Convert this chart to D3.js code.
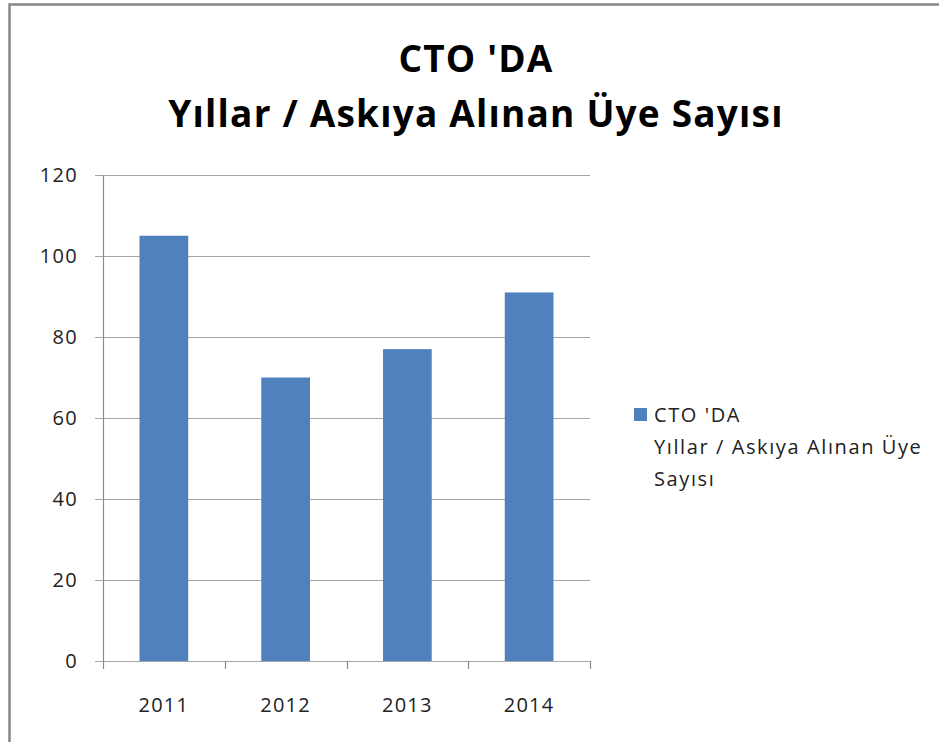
<!DOCTYPE html>
<html>
<head>
<meta charset="utf-8">
<script src="https://cdn.jsdelivr.net/npm/d3@7"></script>
<style>
  body { margin: 0; background: #fff; }
  svg text { font-family: "Open Sans", "Noto Sans", sans-serif; fill: #222; }
</style>
</head>
<body>
<div id="chart"></div>
<script>
// Chart data
const years = ["2011", "2012", "2013", "2014"];
const values = [105, 70, 77, 91];
const yTicks = [0, 20, 40, 60, 80, 100, 120];
const titleLines = ["CTO 'DA", "Yıllar / Askıya Alınan Üye Sayısı"];
const legendLines = ["CTO 'DA", "Yıllar / Askıya Alınan Üye", "Sayısı"];

const width = 939, height = 742;
const margin = { top: 175, right: 349, bottom: 81, left: 103 };
const innerW = width - margin.left - margin.right;
const innerH = height - margin.top - margin.bottom;

const svg = d3.select("#chart").append("svg")
    .attr("width", width)
    .attr("height", height);

// outer frame
svg.append("path")
    .attr("d", "M9.5," + height + " V4.5 H" + width)
    .attr("fill", "none")
    .attr("stroke", "#878787")
    .attr("stroke-width", 2.5);

// title
svg.append("g").selectAll("text")
    .data(titleLines)
    .enter().append("text")
    .attr("x", 476)
    .attr("y", (d, i) => 72 + i * 55)
    .attr("text-anchor", "middle")
    .style("font-size", "37px")
    .style("letter-spacing", "1.2px")
    .style("font-weight", "bold")
    .style("fill", "#000")
    .text(d => d);

const g = svg.append("g")
    .attr("transform", "translate(" + margin.left + "," + margin.top + ")");

const x = d3.scaleBand().domain(years).range([0, innerW]).paddingInner(0.6).paddingOuter(0.3);
const y = d3.scaleLinear().domain([0, 120]).range([innerH, 0]);

// gridlines
g.append("g").selectAll("line")
    .data(yTicks)
    .enter().append("line")
    .attr("x1", -8)
    .attr("x2", innerW)
    .attr("y1", d => Math.round(y(d)) + 0.5)
    .attr("y2", d => Math.round(y(d)) + 0.5)
    .attr("stroke", "#a6a6a6")
    .attr("stroke-width", 1.2);

// y axis labels
g.append("g").selectAll("text")
    .data(yTicks)
    .enter().append("text")
    .attr("x", -25)
    .attr("y", d => y(d))
    .attr("dy", "0.35em")
    .attr("text-anchor", "end")
    .style("font-size", "20px")
    .style("letter-spacing", "1.3px")
    .text(d => d);

// bars
g.append("g").selectAll("rect")
    .data(values)
    .enter().append("rect")
    .attr("x", (d, i) => x(years[i]))
    .attr("width", x.bandwidth())
    .attr("y", d => y(d))
    .attr("height", d => innerH - y(d))
    .attr("fill", "#4f81bd");

// axis lines and category ticks
g.append("line")
    .attr("x1", 0.5).attr("x2", 0.5)
    .attr("y1", 0).attr("y2", innerH)
    .attr("stroke", "#8c8c8c").attr("stroke-width", 1.2);

const step = innerW / years.length;
g.append("g").selectAll("line")
    .data(d3.range(years.length + 1))
    .enter().append("line")
    .attr("x1", i => Math.round(i * step) + 0.5)
    .attr("x2", i => Math.round(i * step) + 0.5)
    .attr("y1", innerH)
    .attr("y2", innerH + 8)
    .attr("stroke", "#8c8c8c").attr("stroke-width", 1.2);

// x labels
g.append("g").selectAll("text")
    .data(years)
    .enter().append("text")
    .attr("x", d => x(d) + x.bandwidth() / 2)
    .attr("y", innerH + 51)
    .attr("text-anchor", "middle")
    .style("font-size", "20px")
    .style("letter-spacing", "1.3px")
    .text(d => d);

// legend
const legend = svg.append("g").attr("transform", "translate(634,408)");
legend.append("rect")
    .attr("width", 13)
    .attr("height", 13)
    .attr("fill", "#4f81bd");
legend.selectAll("text")
    .data(legendLines)
    .enter().append("text")
    .attr("x", 20)
    .attr("y", (d, i) => 14 + i * 32)
    .style("font-size", "20px")
    .style("letter-spacing", "1.6px")
    .text(d => d);
</script>
</body>
</html>
